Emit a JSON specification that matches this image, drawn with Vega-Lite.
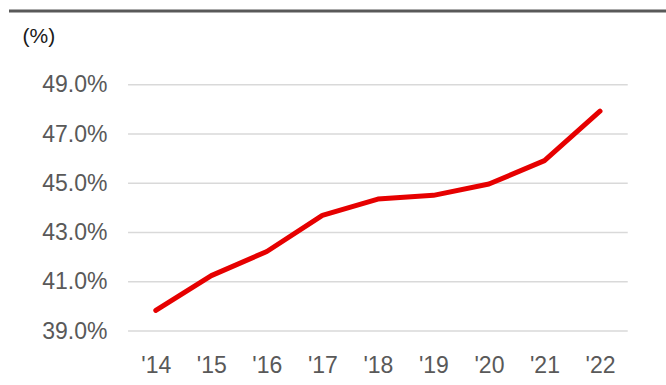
{
  "$schema": "https://vega.github.io/schema/vega-lite/v6.json",
  "width": 657,
  "height": 320,
  "autosize": {"type": "none"},
  "padding": {"left": 9, "top": 11, "right": 0, "bottom": 54},
  "background": "white",
  "config": {
    "view": {"stroke": null},
    "font": "Liberation Sans"
  },
  "layer": [
    {
      "data": {"values": [{"g": 39}, {"g": 41}, {"g": 43}, {"g": 45}, {"g": 47}, {"g": 49}]},
      "mark": {"type": "rule", "color": "#D9D9D9", "strokeWidth": 1.5},
      "encoding": {
        "y": {"field": "g", "type": "quantitative"},
        "x": {"datum": 2013.5, "type": "quantitative"},
        "x2": {"datum": 2022.5}
      }
    },
    {
      "data": {"values": [{"edge": "top"}]},
      "mark": {"type": "rule", "color": "#595959", "strokeWidth": 3},
      "encoding": {
        "y": {"datum": 52, "type": "quantitative"}
      }
    },
    {
      "data": {"values": [
        {"year": 2014, "ratio": 39.84},
        {"year": 2015, "ratio": 41.25},
        {"year": 2016, "ratio": 42.23},
        {"year": 2017, "ratio": 43.70},
        {"year": 2018, "ratio": 44.36},
        {"year": 2019, "ratio": 44.51},
        {"year": 2020, "ratio": 44.97},
        {"year": 2021, "ratio": 45.92},
        {"year": 2022, "ratio": 47.93}
      ]},
      "mark": {"type": "line", "color": "#E60000", "strokeWidth": 5, "strokeCap": "round", "strokeJoin": "round"},
      "encoding": {
        "x": {
          "field": "year", "type": "quantitative",
          "scale": {"domain": [2011.356, 2023.189], "nice": false, "zero": false},
          "axis": {
            "values": [2014, 2015, 2016, 2017, 2018, 2019, 2020, 2021, 2022],
            "labelExpr": "\"'\" + substring(toString(datum.value), 2)",
            "title": null, "grid": false, "ticks": false, "domain": false,
            "labelFontSize": 23, "labelColor": "#595959", "labelPadding": 23,
            "labelFlush": false, "labelOverlap": false
          }
        },
        "y": {
          "field": "ratio", "type": "quantitative",
          "scale": {"domain": [39, 52], "nice": false, "zero": false},
          "axis": {
            "values": [39, 41, 43, 45, 47, 49],
            "labelExpr": "format(datum.value, '.1f') + '%'",
            "grid": false, "ticks": false, "domain": false,
            "offset": -98, "labelPadding": 0,
            "labelFontSize": 23, "labelColor": "#595959", "labelAlign": "right", "labelBaseline": "middle",
            "labelFlush": false, "labelOverlap": false,
            "title": "(%)", "titleAngle": 0, "titleAlign": "left", "titleBaseline": "middle",
            "titleX": -85, "titleY": 25, "titleFontSize": 21, "titleFontWeight": "normal", "titleColor": "#1A1A1A"
          }
        }
      }
    }
  ]
}
